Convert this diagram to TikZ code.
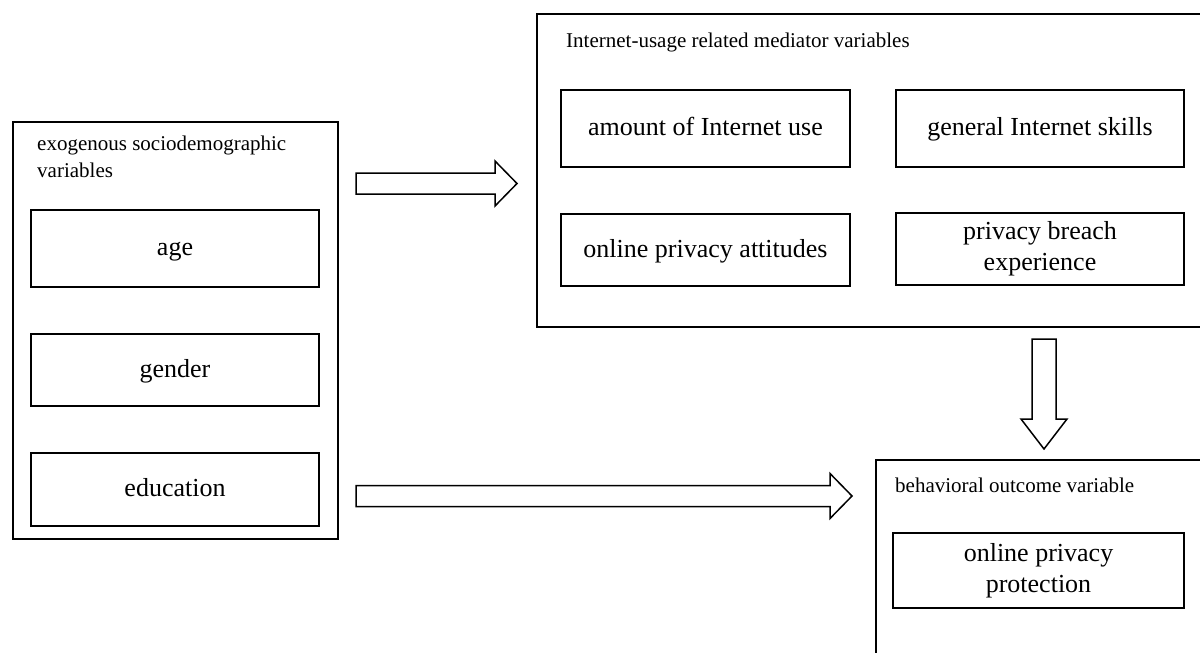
\documentclass[tikz,border=0pt]{standalone}
\usepackage{fontspec}
\setmainfont{Liberation Serif}
\usetikzlibrary{calc}

% horizontal block arrow: #1 tail point, #2 tip point
\newcommand\hblockarrow[2]{%
  \draw[blockarrow] ($(#1)+(0,-10.5)$) -- ($(#2)+(-22,-10.5)$) -- ($(#2)+(-22,-22.5)$)
    -- (#2) -- ($(#2)+(-22,22.5)$) -- ($(#2)+(-22,10.5)$) -- ($(#1)+(0,10.5)$) -- cycle;}
% vertical (downward) block arrow: #1 tail point, #2 tip point
\newcommand\vblockarrow[2]{%
  \draw[blockarrow] ($(#1)+(-12,0)$) -- ($(#2)+(-12,-30)$) -- ($(#2)+(-23,-30)$)
    -- (#2) -- ($(#2)+(23,-30)$) -- ($(#2)+(12,-30)$) -- ($(#1)+(12,0)$) -- cycle;}

\begin{document}
\begin{tikzpicture}[x=1pt,y=-1pt,
  groupbox/.style={draw, line width=1.8pt, anchor=north west, inner sep=0pt},
  varbox/.style={draw, line width=1.8pt, inner sep=2pt, align=center,
    font=\fontsize{26}{31}\selectfont},
  onelinebox/.style={varbox, text height=19pt, text depth=5pt},
  grouptitle/.style={anchor=west, inner sep=0pt, align=left,
    font=\fontsize{21}{27}\selectfont},
  blockarrow/.style={draw, line width=1.5pt, fill=white, line join=miter}]

\useasboundingbox (0,0) rectangle (1200,653);
\clip (0,0) rectangle (1200,653);

% exogenous variables
\node[groupbox, minimum width=325pt, minimum height=417pt] (exo) at (12,121) {};
\node[grouptitle] (exot) at (37,156.5) {exogenous sociodemographic\\variables};
\node[onelinebox, minimum width=288pt, minimum height=77pt] (age) at (175,248.5) {age};
\node[onelinebox, minimum width=288pt, minimum height=72pt] (gender) at (175,370) {gender};
\node[onelinebox, minimum width=288pt, minimum height=73pt] (edu) at (175,489.5) {education};

% mediator variables
\node[groupbox, minimum width=684pt, minimum height=313pt] (med) at (536,13) {};
\node[grouptitle] (medt) at (566,42) {Internet-usage related mediator variables};
\node[onelinebox, minimum width=289pt, minimum height=77pt] (amount) at (705.5,128.5) {amount of Internet use};
\node[onelinebox, minimum width=288pt, minimum height=77pt] (skills) at (1040,128.5) {general Internet skills};
\node[onelinebox, minimum width=289pt, minimum height=72pt] (attit) at (705.5,250) {online privacy attitudes};
\node[varbox, minimum width=288pt, minimum height=72pt] (breach) at (1040,249) {privacy breach\\experience};

% outcome variable
\node[groupbox, minimum width=345pt, minimum height=220pt] (out) at (875,459) {};
\node[grouptitle] (outt) at (895,485) {behavioral outcome variable};
\node[varbox, minimum width=291pt, minimum height=75pt] (protect) at (1038.5,570.5) {online privacy\\protection};

% block arrows between the groups
\coordinate (a1s) at (356,183.5);
\coordinate (a1e) at (517,183.5);
\coordinate (a2s) at (356,496);
\coordinate (a2e) at (852,496);
\coordinate (a3s) at (1044,339);
\coordinate (a3e) at (1044,449);
\hblockarrow{a1s}{a1e}
\hblockarrow{a2s}{a2e}
\vblockarrow{a3s}{a3e}
\end{tikzpicture}
\end{document}
